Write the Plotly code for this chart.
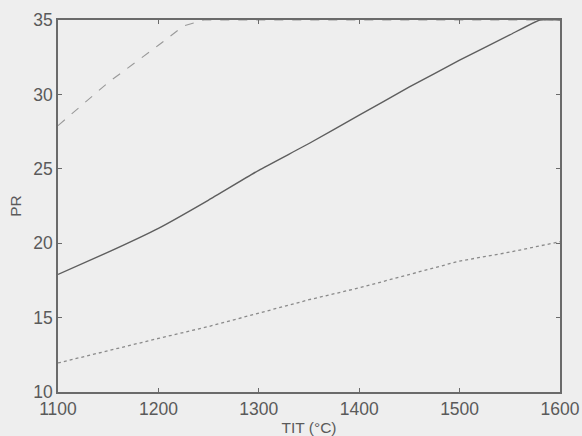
import plotly.graph_objects as go

# Data
tit_dash = [1100, 1150, 1200, 1225, 1245, 1300, 1400, 1500, 1600]
pr_dash = [27.9, 30.8, 33.3, 34.6, 35.0, 35.0, 35.0, 35.0, 35.0]

tit_solid = [1100, 1150, 1200, 1250, 1300, 1350, 1400, 1450, 1500, 1550, 1580, 1600]
pr_solid = [17.9, 19.4, 21.0, 22.9, 24.9, 26.7, 28.6, 30.5, 32.3, 34.0, 35.0, 35.0]

tit_dot = [1100, 1150, 1200, 1250, 1300, 1350, 1400, 1450, 1500, 1550, 1600]
pr_dot = [11.95, 12.8, 13.6, 14.4, 15.3, 16.2, 17.0, 17.9, 18.8, 19.4, 20.1]

x_ticks = [1100, 1200, 1300, 1400, 1500, 1600]
y_ticks = [10, 15, 20, 25, 30, 35]

fig = go.Figure()
fig.add_trace(go.Scatter(x=tit_dash, y=pr_dash, mode="lines",
                         line=dict(color="#999999", width=1.1, dash="dash"),
                         showlegend=False))
fig.add_trace(go.Scatter(x=tit_solid, y=pr_solid, mode="lines",
                         line=dict(color="#5e5e5e", width=1.4, shape="spline", smoothing=0.4),
                         showlegend=False))
fig.add_trace(go.Scatter(x=tit_dot, y=pr_dot, mode="lines",
                         line=dict(color="#8a8a8a", width=1.3, dash="dot"),
                         showlegend=False))

axis_common = dict(
    showgrid=False, zeroline=False, automargin=False,
    showline=True, linecolor="#6a6a6a", linewidth=1.5, mirror="ticks",
    ticks="inside", ticklen=4, tickcolor="#6a6a6a", tickwidth=1.2,
    tickfont=dict(family="Liberation Sans, Arial", size=17.5, color="#5a5a5a"),
)

fig.update_layout(
    width=582, height=436,
    margin=dict(l=58, r=22, t=20, b=44),
    paper_bgcolor="#eeeeee", plot_bgcolor="#eeeeee",
    font=dict(family="Liberation Sans, Arial", size=16, color="#5a5a5a"),
    xaxis=dict(range=[1100, 1600], tickvals=x_ticks,
               title=dict(text="TIT (°C)", standoff=4,
                          font=dict(size=15.5, color="#5a5a5a")),
               **axis_common),
    yaxis=dict(range=[10, 35], tickvals=y_ticks,
               title=dict(text="PR", standoff=8,
                          font=dict(size=15.5, color="#5a5a5a")),
               **axis_common),
)

fig.write_html("out.html")
